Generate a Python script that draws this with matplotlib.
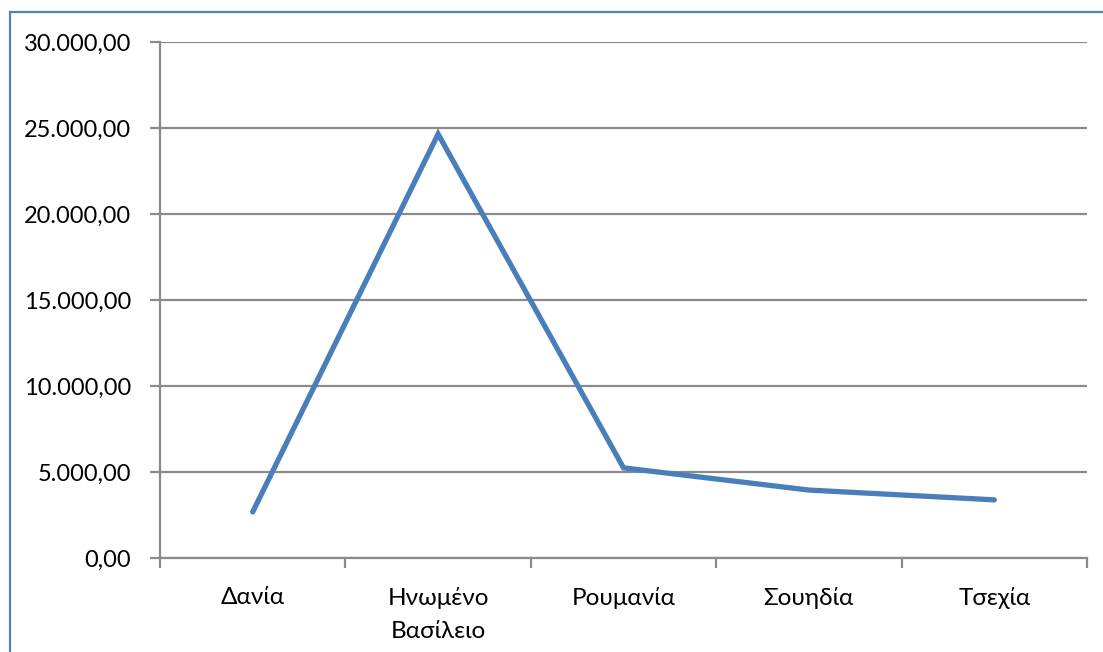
import matplotlib
matplotlib.use("Agg")
import matplotlib.pyplot as plt
from matplotlib.patches import Rectangle
from matplotlib.ticker import FuncFormatter, FixedLocator

countries = ["Δανία", "Ηνωμένο\nΒασίλειο", "Ρουμανία", "Σουηδία", "Τσεχία"]
values = [2680, 24650, 5240, 3950, 3380]
y_ticks = [0, 5000, 10000, 15000, 20000, 25000, 30000]

plt.rcParams["font.family"] = ["Lato", "DejaVu Sans"]

GRID = "#8a8a8a"
LINE = "#4a7ebb"


def greek_number(v, _pos=None):
    """Format a value as 12.345,00"""
    s = f"{v:,.2f}"
    return s.replace(",", "X").replace(".", ",").replace("X", ".")


fig = plt.figure(figsize=(11.03, 6.52), dpi=100)
W, H = 1103, 652
ax = fig.add_axes([160 / W, 1 - 558 / H, (1087 - 160) / W, (558 - 42) / H])

# blue chart frame, running off the right and bottom edges
fig.patches.append(Rectangle((10 / W, -0.1), 1.2, 1 - 12 / H + 0.1,
                             transform=fig.transFigure, fill=False,
                             edgecolor="#4f81bd", linewidth=1.6))

x = list(range(len(countries)))
ax.plot(x, values, color=LINE, linewidth=3.8, solid_capstyle="round",
        solid_joinstyle="miter", zorder=3)

ax.set_xlim(-0.5, len(countries) - 0.5)
ax.set_ylim(0, 30000)
ax.set_yticks(y_ticks)
ax.yaxis.set_major_formatter(FuncFormatter(greek_number))
ax.grid(axis="y", color=GRID, linewidth=1.6)
ax.set_axisbelow(True)

ax.xaxis.set_major_locator(FixedLocator([i - 0.5 for i in range(len(countries) + 1)]))
ax.xaxis.set_minor_locator(FixedLocator(x))
ax.set_xticklabels([])
ax.set_xticklabels(countries, minor=True)
ax.tick_params(axis="x", which="major", length=7, width=1.6, color=GRID)
ax.tick_params(axis="x", which="minor", length=0, pad=21, labelsize=17.5)
ax.tick_params(axis="y", length=7, width=1.6, color=GRID, pad=14, labelsize=17)

for lbl in ax.get_xticklabels(minor=True):
    lbl.set_linespacing(1.7)

for side in ("top", "right"):
    ax.spines[side].set_visible(False)
for side in ("left", "bottom"):
    ax.spines[side].set_color(GRID)
    ax.spines[side].set_linewidth(1.6)

fig.savefig("out.png", dpi=100)
